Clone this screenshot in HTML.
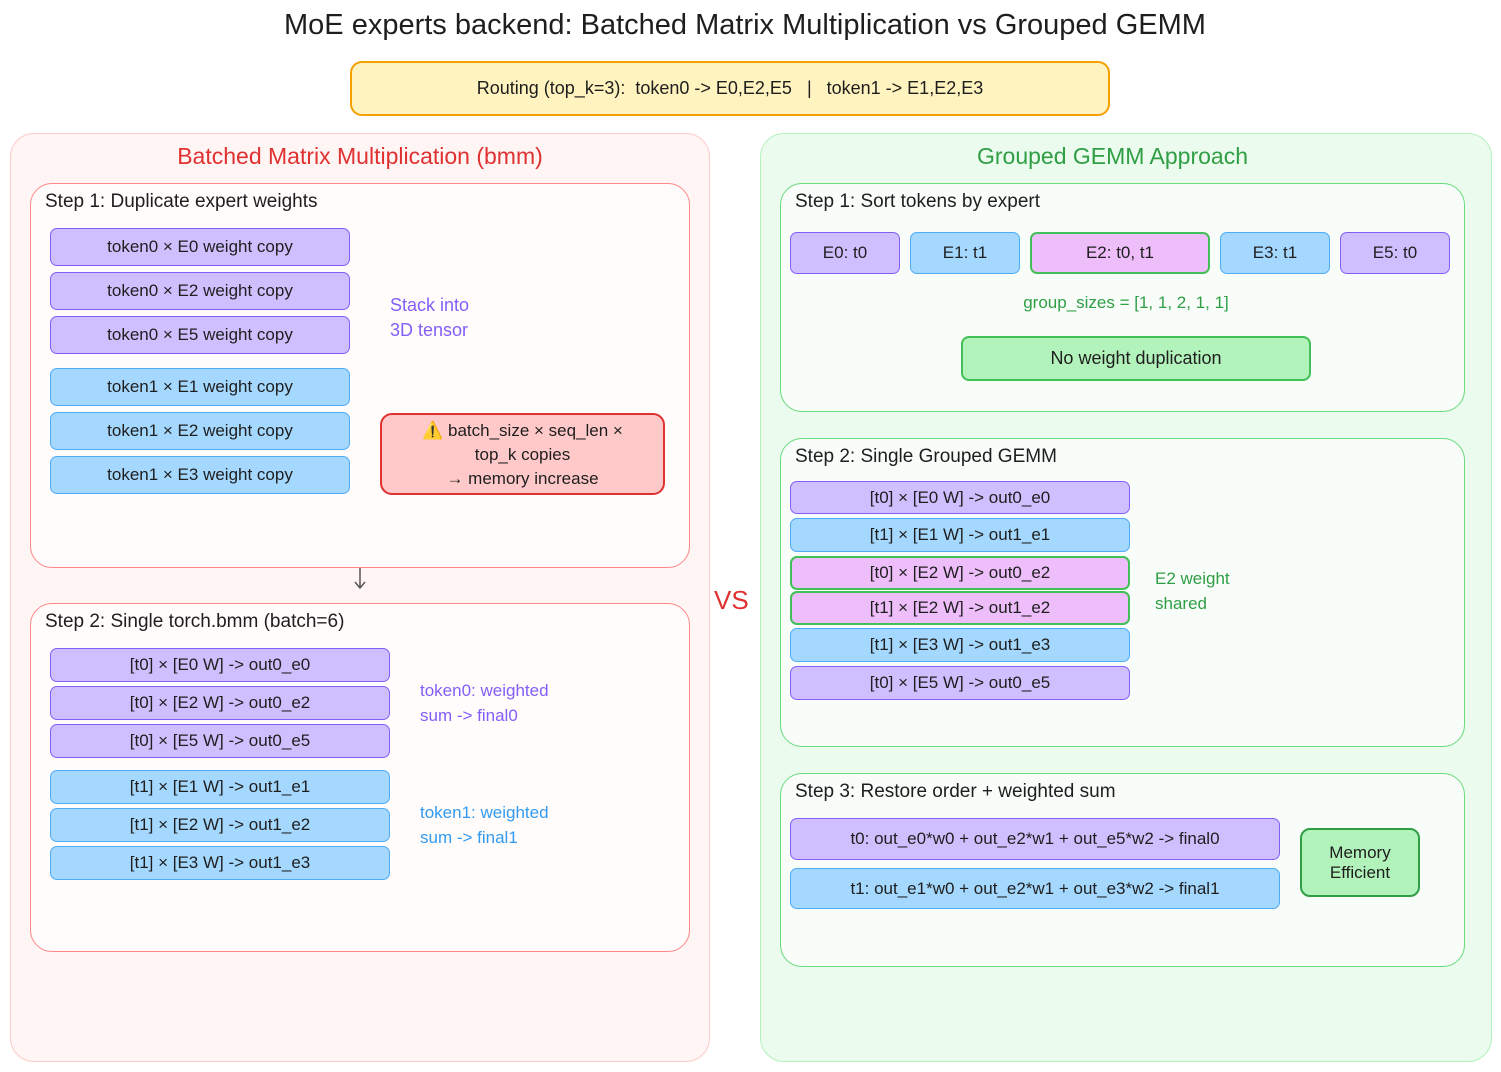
<!DOCTYPE html>
<html><head><meta charset="utf-8"><style>
body{margin:0;width:1501px;height:1072px;background:#fff;position:relative;overflow:hidden;font-family:"Liberation Sans",sans-serif;}
div,svg{box-sizing:border-box;position:absolute;}
.t{white-space:nowrap;}
.box{border-radius:12px;border:2px solid;}
.it{border-radius:7px;border:1.5px solid;display:flex;align-items:center;justify-content:center;font-size:17px;color:#1e1e1e;white-space:nowrap;}
.p{background:#d0bfff;border-color:#845ef7;}
.b{background:#a5d8ff;border-color:#4dabf7;}
.k{background:#eebefa;border-color:#40c057;border-width:2px;}
.st{font-size:19px;color:#1e1e1e;}
</style></head><body>
<div class="t" style="left:0;width:1490px;top:9px;text-align:center;font-size:29px;color:#1e1e1e;">MoE experts backend: Batched Matrix Multiplication vs Grouped GEMM</div>
<div class="box" style="left:350px;top:61px;width:760px;height:55px;background:#fff3bf;border-color:#f59f00;display:flex;align-items:center;justify-content:center;font-size:18px;color:#1e1e1e;">Routing (top_k=3):&nbsp; token0 -&gt; E0,E2,E5 &nbsp;&nbsp;|&nbsp;&nbsp; token1 -&gt; E1,E2,E3</div>

<!-- left -->
<div class="box" style="left:10px;top:133px;width:700px;height:929px;background:#fff5f5;border-color:#ffc9c9;border-width:1.5px;border-radius:24px;"></div>
<div class="t" style="left:10px;width:700px;top:143px;text-align:center;font-size:23px;color:#e03131;">Batched Matrix Multiplication (bmm)</div>
<div class="box" style="left:30px;top:183px;width:660px;height:385px;background:#fffcfb;border-color:#ff8787;border-width:1.5px;border-radius:22px;"></div>
<div class="t st" style="left:45px;top:191px;">Step 1: Duplicate expert weights</div>
<div class="it p" style="left:50px;top:228px;width:300px;height:38px;">token0 × E0 weight copy</div>
<div class="it p" style="left:50px;top:272px;width:300px;height:38px;">token0 × E2 weight copy</div>
<div class="it p" style="left:50px;top:316px;width:300px;height:38px;">token0 × E5 weight copy</div>
<div class="it b" style="left:50px;top:368px;width:300px;height:38px;">token1 × E1 weight copy</div>
<div class="it b" style="left:50px;top:412px;width:300px;height:38px;">token1 × E2 weight copy</div>
<div class="it b" style="left:50px;top:456px;width:300px;height:38px;">token1 × E3 weight copy</div>
<div style="left:390px;top:293px;font-size:18px;color:#845ef7;line-height:25px;">Stack into<br>3D tensor</div>
<div class="box" style="left:380px;top:413px;width:285px;height:82px;background:#ffc9c9;border-color:#e03131;text-align:center;font-size:17px;color:#1e1e1e;line-height:24px;padding-top:4px;">⚠️ batch_size × seq_len ×<br>top_k copies<br>→ memory increase</div>
<svg style="left:350px;top:566px;" width="20" height="26"><path d="M10 2 L10 22 M5 16 L10 22 L15 16" stroke="#555" stroke-width="1.5" fill="none"/></svg>

<div class="box" style="left:30px;top:603px;width:660px;height:349px;background:#fffcfb;border-color:#ff8787;border-width:1.5px;border-radius:22px;"></div>
<div class="t st" style="left:45px;top:611px;">Step 2: Single torch.bmm (batch=6)</div>
<div class="it p" style="left:50px;top:648px;width:340px;height:34px;">[t0] × [E0 W] -&gt; out0_e0</div>
<div class="it p" style="left:50px;top:686px;width:340px;height:34px;">[t0] × [E2 W] -&gt; out0_e2</div>
<div class="it p" style="left:50px;top:724px;width:340px;height:34px;">[t0] × [E5 W] -&gt; out0_e5</div>
<div class="it b" style="left:50px;top:770px;width:340px;height:34px;">[t1] × [E1 W] -&gt; out1_e1</div>
<div class="it b" style="left:50px;top:808px;width:340px;height:34px;">[t1] × [E2 W] -&gt; out1_e2</div>
<div class="it b" style="left:50px;top:846px;width:340px;height:34px;">[t1] × [E3 W] -&gt; out1_e3</div>
<div style="left:420px;top:678px;font-size:17px;color:#845ef7;line-height:25px;">token0: weighted<br>sum -&gt; final0</div>
<div style="left:420px;top:800px;font-size:17px;color:#339af0;line-height:25px;">token1: weighted<br>sum -&gt; final1</div>

<div class="t" style="left:714px;top:585px;font-size:26px;color:#e03131;">VS</div>

<!-- right -->
<div class="box" style="left:760px;top:133px;width:732px;height:929px;background:#ebfbee;border-color:#b2f2bb;border-width:1.5px;border-radius:24px;"></div>
<div class="t" style="left:760px;width:705px;top:143px;text-align:center;font-size:23px;color:#2f9e44;">Grouped GEMM Approach</div>
<div class="box" style="left:780px;top:183px;width:685px;height:229px;background:#f8fdf9;border-color:#69db7c;border-width:1.5px;border-radius:22px;"></div>
<div class="t st" style="left:795px;top:191px;">Step 1: Sort tokens by expert</div>
<div class="it p" style="left:790px;top:232px;width:110px;height:42px;">E0: t0</div>
<div class="it b" style="left:910px;top:232px;width:110px;height:42px;">E1: t1</div>
<div class="it k" style="left:1030px;top:232px;width:180px;height:42px;">E2: t0, t1</div>
<div class="it b" style="left:1220px;top:232px;width:110px;height:42px;">E3: t1</div>
<div class="it p" style="left:1340px;top:232px;width:110px;height:42px;">E5: t0</div>
<div class="t" style="left:780px;width:692px;top:293px;text-align:center;font-size:17px;color:#2f9e44;">group_sizes = [1, 1, 2, 1, 1]</div>
<div class="box" style="left:961px;top:336px;width:350px;height:45px;background:#b2f2bb;border-color:#40c057;border-radius:8px;display:flex;align-items:center;justify-content:center;font-size:18px;color:#1e1e1e;">No weight duplication</div>

<div class="box" style="left:780px;top:438px;width:685px;height:309px;background:#f8fdf9;border-color:#69db7c;border-width:1.5px;border-radius:22px;"></div>
<div class="t st" style="left:795px;top:446px;">Step 2: Single Grouped GEMM</div>
<div class="it p" style="left:790px;top:481px;width:340px;height:33px;">[t0] × [E0 W] -&gt; out0_e0</div>
<div class="it b" style="left:790px;top:518px;width:340px;height:34px;">[t1] × [E1 W] -&gt; out1_e1</div>
<div class="it k" style="left:790px;top:556px;width:340px;height:34px;">[t0] × [E2 W] -&gt; out0_e2</div>
<div class="it k" style="left:790px;top:591px;width:340px;height:34px;">[t1] × [E2 W] -&gt; out1_e2</div>
<div class="it b" style="left:790px;top:628px;width:340px;height:34px;">[t1] × [E3 W] -&gt; out1_e3</div>
<div class="it p" style="left:790px;top:666px;width:340px;height:34px;">[t0] × [E5 W] -&gt; out0_e5</div>
<div style="left:1155px;top:566px;font-size:17px;color:#2f9e44;line-height:25px;">E2 weight<br>shared</div>

<div class="box" style="left:780px;top:773px;width:685px;height:194px;background:#f8fdf9;border-color:#69db7c;border-width:1.5px;border-radius:22px;"></div>
<div class="t st" style="left:795px;top:781px;">Step 3: Restore order + weighted sum</div>
<div class="it p" style="left:790px;top:818px;width:490px;height:42px;">t0: out_e0*w0 + out_e2*w1 + out_e5*w2 -&gt; final0</div>
<div class="it b" style="left:790px;top:868px;width:490px;height:41px;">t1: out_e1*w0 + out_e2*w1 + out_e3*w2 -&gt; final1</div>
<div class="box" style="left:1300px;top:828px;width:120px;height:69px;background:#b2f2bb;border-color:#2f9e44;border-radius:10px;text-align:center;font-size:17px;color:#1e1e1e;line-height:20px;padding-top:13px;">Memory<br>Efficient</div>
</body></html>
